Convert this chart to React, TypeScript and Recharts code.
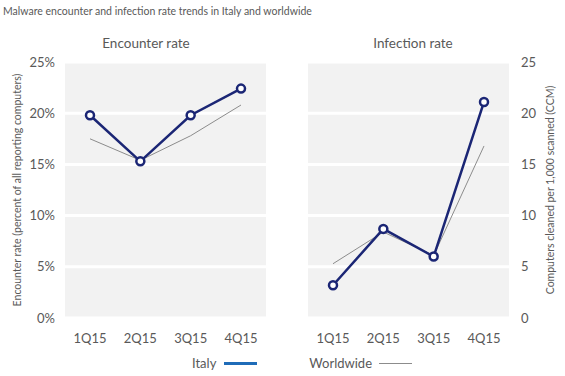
import { LineChart, Line, XAxis, YAxis, CartesianGrid, Label } from 'recharts';

const quarters = ['1Q15', '2Q15', '3Q15', '4Q15'];
const encounterItaly = [19.8, 15.3, 19.8, 22.4];
const encounterWorld = [17.5, 15.4, 17.8, 20.8];
const infectionItaly = [3.2, 8.7, 6.0, 21.1];
const infectionWorld = [5.3, 8.4, 6.1, 16.8];
const yTicks = [0, 5, 10, 15, 20, 25];

const encounterData = quarters.map((q, i) => ({ q, italy: encounterItaly[i], world: encounterWorld[i] }));
const infectionData = quarters.map((q, i) => ({ q, italy: infectionItaly[i], world: infectionWorld[i] }));

const FONT = 'Lato, "Open Sans", sans-serif';
const TEXT = '#595959';
const NAVY = '#1b2675';
const tickStyle = { fill: TEXT, fontSize: 13, fontFamily: FONT };
const axisLabelStyle = { textAnchor: 'middle', fill: TEXT, fontSize: 10.5, fontFamily: FONT };

function Series() {
  return [
    <Line key="w" dataKey="world" stroke="#8c8c8c" strokeWidth={1} dot={false} isAnimationActive={false} />,
    <Line
      key="i"
      dataKey="italy"
      stroke={NAVY}
      strokeWidth={2.5}
      dot={{ r: 4, fill: '#fff', stroke: NAVY, strokeWidth: 2.5 }}
      isAnimationActive={false}
    />,
  ];
}

export default function App() {
  return (
    <div style={{ position: 'absolute', left: 0, top: 0, width: 565, height: 376, background: '#fff', fontFamily: FONT, color: TEXT }}>
      <div style={{ position: 'absolute', left: 3, top: 5, fontSize: 10.5 }}>
        Malware encounter and infection rate trends in Italy and worldwide
      </div>
      <div style={{ position: 'absolute', left: 65, width: 162, top: 35, fontSize: 13.5, textAlign: 'center' }}>Encounter rate</div>
      <div style={{ position: 'absolute', left: 332, width: 162, top: 35, fontSize: 13.5, textAlign: 'center' }}>Infection rate</div>

      <div style={{ position: 'absolute', left: 0, top: 0 }}>
        <LineChart width={290} height={376} data={encounterData} margin={{ top: 62, right: 24, bottom: 28, left: 5 }}>
          <CartesianGrid fill="#f2f2f2" stroke="#fff" strokeWidth={3} vertical={false} />
          <XAxis dataKey="q" axisLine={false} tickLine={false} tick={tickStyle} tickMargin={10} padding={{ left: 25, right: 25 }} />
          <YAxis
            domain={[0, 25]}
            ticks={yTicks}
            tickFormatter={(v) => `${v}%`}
            axisLine={false}
            tickLine={false}
            tick={tickStyle}
            tickMargin={4}
            width={60}
          >
            <Label
              value="Encounter rate (percent of all reporting computers)"
              angle={-90}
              position="insideLeft"
              offset={12}
              style={axisLabelStyle}
            />
          </YAxis>
          {Series()}
        </LineChart>
      </div>

      <div style={{ position: 'absolute', left: 280, top: 0 }}>
        <LineChart width={285} height={376} data={infectionData} margin={{ top: 62, right: 0, bottom: 28, left: 28 }}>
          <CartesianGrid fill="#f2f2f2" stroke="#fff" strokeWidth={3} vertical={false} />
          <XAxis dataKey="q" axisLine={false} tickLine={false} tick={tickStyle} tickMargin={10} padding={{ left: 25, right: 25 }} />
          <YAxis
            orientation="right"
            domain={[0, 25]}
            ticks={yTicks}
            axisLine={false}
            tickLine={false}
            tick={tickStyle}
            tickMargin={6}
            width={56}
          >
            <Label
              value="Computers cleaned per 1,000 scanned (CCM)"
              angle={-90}
              position="insideRight"
              offset={15}
              style={axisLabelStyle}
            />
          </YAxis>
          {Series()}
        </LineChart>
      </div>

      <div style={{ position: 'absolute', left: 192, top: 355, fontSize: 13, display: 'flex', alignItems: 'center' }}>
        <span>Italy</span>
        <span style={{ display: 'inline-block', width: 33, height: 3, background: '#1f6cb8', marginLeft: 8 }} />
        <span style={{ marginLeft: 52 }}>Worldwide</span>
        <span style={{ display: 'inline-block', width: 33, height: 1, background: '#8c8c8c', marginLeft: 7 }} />
      </div>
    </div>
  );
}
